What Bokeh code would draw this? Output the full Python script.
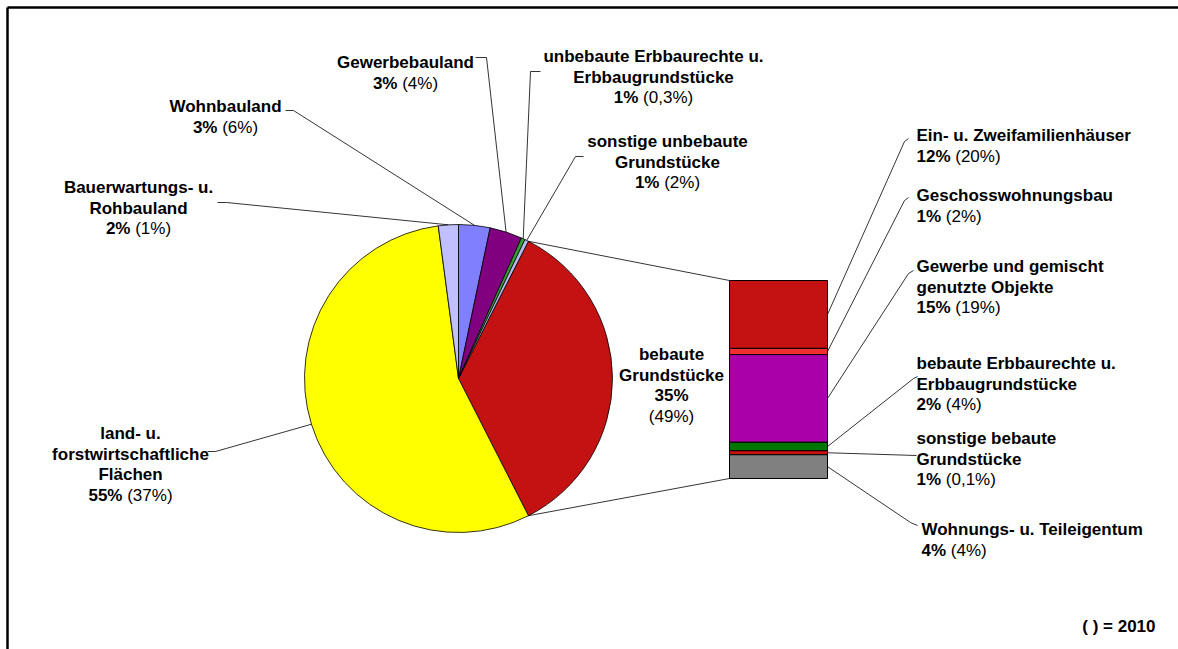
import math
from bokeh.plotting import figure
from bokeh.models import Range1d, ColumnDataSource
from bokeh.embed import file_html
from bokeh.resources import INLINE
from bokeh.core.properties import value

# ---------------- data ----------------
pie_labels = [
    ["bebaute", "Grundstücke"],
    ["land- u.", "forstwirtschaftliche", "Flächen"],
    ["Bauerwartungs- u.", "Rohbauland"],
    ["Wohnbauland"],
    ["Gewerbebauland"],
    ["unbebaute Erbbaurechte u.", "Erbbaugrundstücke"],
    ["sonstige unbebaute", "Grundstücke"],
]
pie_values = [35.0, 55.4, 2.1, 3.3, 3.4, 0.4, 0.4]
pie_pct = ["35%", "55%", "2%", "3%", "3%", "1%", "1%"]
pie_pct_2010 = ["(49%)", "(37%)", "(1%)", "(6%)", "(4%)", "(0,3%)", "(2%)"]
pie_colors = ["#C41212", "#FFFF00", "#C0C0FF", "#8080FF", "#800080", "#33A033", "#B8B8F0"]

bar_labels = [
    ["Ein- u.  Zweifamilienhäuser"],
    ["Geschosswohnungsbau"],
    ["Gewerbe und gemischt", "genutzte Objekte"],
    ["bebaute Erbbaurechte u.", "Erbbaugrundstücke"],
    ["sonstige bebaute", "Grundstücke"],
    ["Wohnungs- u. Teileigentum"],
]
bar_values = [12.0, 1.1, 15.5, 1.5, 0.7, 4.2]
bar_pct = ["12%", "1%", "15%", "2%", "1%", "4%"]
bar_pct_2010 = ["(20%)", "(2%)", "(19%)", "(4%)", "(0,1%)", "(4%)"]
bar_colors = ["#C41212", "#F03030", "#AA00AA", "#007800", "#CC1010", "#808080"]

note_text = "( ) = 2010"

# ---------------- layout ----------------
W, H = 1178, 649
OX, OY = 0, 0
def X(sx): return sx - OX
def Y(sy): return H - (sy - OY)

FONT = "Liberation Sans"
FS = 17
LS = 20.5

p = figure(width=W, height=H, x_range=Range1d(0, W), y_range=Range1d(0, H),
           output_backend="svg", toolbar_location=None,
           x_axis_type=None, y_axis_type=None, min_border=0)
p.outline_line_color = None
p.background_fill_color = "white"
p.border_fill_color = "white"

# frame (top & left edges; the others fall outside the window)
p.segment(x0=[X(7), X(7)], y0=[Y(7), Y(7)], x1=[W + 5, X(7)], y1=[Y(7), -5],
          line_color="black", line_width=2.5)

# pie
PCX, PCY, PR = 458, 378, 154
total = sum(pie_values)
cw0 = 90 - pie_values[0] / total * 360 / 2
starts, ends, mids = [], [], []
cum = 0.0
for v in pie_values:
    t1 = cw0 + cum / total * 360
    t2 = t1 + v / total * 360
    starts.append(math.radians(90 - t2))
    ends.append(math.radians(90 - t1))
    mids.append((t1 + t2) / 2)
    cum += v
p.wedge(x=X(PCX), y=Y(PCY), radius=PR, start_angle=starts, end_angle=ends,
        fill_color=pie_colors, line_color="black", line_width=0.8)

def pie_pt(cw_deg):
    r = math.radians(cw_deg)
    return PCX + PR * math.sin(r), PCY - PR * math.cos(r)

# bar
BL, BRt, BT, BB = 729, 827, 280, 478
scale = (BB - BT) / sum(bar_values)
tops, bots, bmid = [], [], []
c = 0.0
for v in bar_values:
    tops.append(Y(BT + c * scale))
    bots.append(Y(BT + (c + v) * scale))
    bmid.append(BT + (c + v / 2) * scale)
    c += v
p.quad(left=X(BL), right=X(BRt), top=tops, bottom=bots,
       fill_color=bar_colors, line_color="black", line_width=1)

# pie-to-bar connectors
red_t1 = cw0
red_t2 = cw0 + pie_values[0] / total * 360
a = pie_pt(red_t1); b = pie_pt(red_t2)
p.segment(x0=[X(a[0]), X(b[0])], y0=[Y(a[1]), Y(b[1])],
          x1=[X(BL), X(BL)], y1=[Y(BT), Y(BB)], line_color="black", line_width=0.8)

# leader lines
lead_xs, lead_ys = [], []
pie_hooks = {
    1: [(207, 451), (215, 451)],
    2: [(217, 202), (226, 202)],
    3: [(285, 110), (293, 110)],
    4: [(475, 57), (486, 57)],
    5: [(540, 71), (530, 71)],
    6: [(583, 156), (575, 156)],
}
for i, pts in pie_hooks.items():
    end = pie_pt(mids[i])
    pts = pts + [end]
    lead_xs.append([X(q[0]) for q in pts])
    lead_ys.append([Y(q[1]) for q in pts])
bar_hooks = [
    [(908, 138), (904, 141)],
    [(908, 197), (904, 200)],
    [(913, 270), (908, 273)],
    [(917, 376), (913, 378)],
    [(916, 455)],
    [(917, 525), (910, 522)],
]
for i, pts in enumerate(bar_hooks):
    pts = pts + [(BRt, bmid[i])]
    lead_xs.append([X(q[0]) for q in pts])
    lead_ys.append([Y(q[1]) for q in pts])
p.multi_line(xs=lead_xs, ys=lead_ys, line_color="black", line_width=0.8)

# text helpers
MET = {**{d: 556 for d in "0123456789"}, "%": 889, "(": 333, ")": 333, ",": 278, " ": 278}
def tw(s): return sum(MET.get(ch, 556) for ch in s) * FS / 1000.0

bold_t = {"x": [], "y": [], "text": [], "align": []}
norm_t = {"x": [], "y": [], "text": [], "align": []}
def add(d, x, y, t, al):
    d["x"].append(X(x)); d["y"].append(Y(y)); d["text"].append(t); d["align"].append(al)

def pct_line(x, y, bp, npct, align):
    wb, wn, ws = tw(bp), tw(npct), tw(" ")
    x0 = x - (wb + ws + wn) / 2 if align == "center" else x
    add(bold_t, x0, y, bp, "left")
    add(norm_t, x0 + wb + ws, y, npct, "left")

pie_pos = {1: (130, 433), 2: (138, 187), 3: (225, 106), 4: (405, 62), 5: (653, 56), 6: (667, 141)}
for i, (cx, y0) in pie_pos.items():
    for k, ln in enumerate(pie_labels[i]):
        add(bold_t, cx, y0 + k * LS, ln, "center")
    pct_line(cx, y0 + len(pie_labels[i]) * LS, pie_pct[i], pie_pct_2010[i], "center")

# label next to the big slice
cx, y0 = 671, 354
for k, ln in enumerate(pie_labels[0]):
    add(bold_t, cx, y0 + k * LS, ln, "center")
add(bold_t, cx, y0 + 2 * LS, pie_pct[0], "center")
add(norm_t, cx, y0 + 3 * LS, pie_pct_2010[0], "center")

bar_pos = [(916, 135), (916, 195), (916, 266), (916, 363), (916, 438), (921, 529)]
for i, (lx, y0) in enumerate(bar_pos):
    for k, ln in enumerate(bar_labels[i]):
        add(bold_t, lx, y0 + k * LS, ln, "left")
    pct_line(lx, y0 + len(bar_labels[i]) * LS, bar_pct[i], bar_pct_2010[i], "left")

add(bold_t, 1155, 626, note_text, "right")

for d, style in ((bold_t, "bold"), (norm_t, "normal")):
    p.text(x="x", y="y", text="text", text_align="align", source=ColumnDataSource(d),
           text_font=value(FONT), text_font_style=style, text_font_size=f"{FS}px",
           text_baseline="alphabetic", text_color="black")

open("out.html", "w").write(file_html(p, INLINE))
